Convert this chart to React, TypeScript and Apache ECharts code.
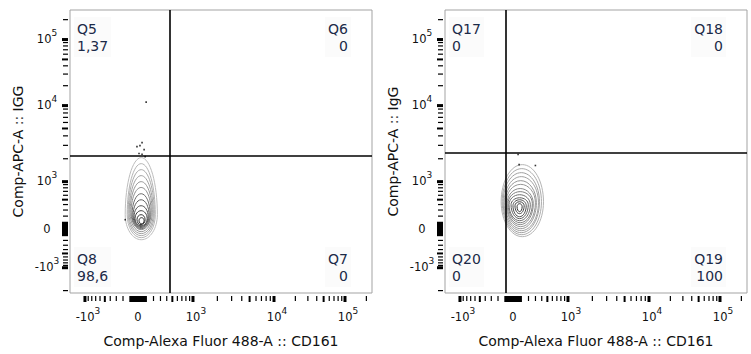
import { useEffect, useRef } from 'react';
import * as echarts from 'echarts';

const FONT = '"DejaVu Sans", "Noto Sans", sans-serif';

// ---- biexponential display scale (display units ~ pixels from zero) ----
const xScale = { pos: 55, neg: 53, dec: [81, 71] };
const yScale = { pos: 48, neg: 38, dec: [76, 66] };
const LIN = 440;
function biex(v: number, s: { pos: number; neg: number; dec: number[] }) {
  const a = Math.abs(v);
  const sg = v < 0 ? -1 : 1;
  const side = v < 0 ? s.neg : s.pos;
  if (a <= 1000) return (sg * side * Math.asinh(a / LIN)) / Math.asinh(1000 / LIN);
  const L = Math.log10(a);
  return sg * (side + Math.min(L - 3, 1) * s.dec[0] + Math.max(L - 4, 0) * s.dec[1]);
}

// ---- axis ranges and ticks (raw fluorescence values) ----
const xRangeRaw = [-1530, 240000];
const yRangeRaw = [-2150, 280000];
const majorTickValues = [-1000, 0, 1000, 10000, 100000];
const majorTickBase = ['-10', '0', '10', '10', '10'];
const majorTickExp = ['3', '', '3', '4', '5'];
const mediumTickValues = [-500, 500, 5000, 50000];
const nearZeroTickValues = [-100, -90, -80, -70, -60, -50, -40, -30, -20, -10, 10, 20, 30, 40, 50, 60, 70, 80, 90, 100];
const minorTickValues = [
  -2000, -900, -800, -700, -600, -400, -300, -200, 200, 300, 400, 600, 700, 800, 900,
  2000, 3000, 4000, 6000, 7000, 8000, 9000, 20000, 30000, 40000, 60000, 70000, 80000, 90000, 200000,
];

// ---- texts ----
const xTitle = 'Comp-Alexa Fluor 488-A :: CD161';
const yTitles = ['Comp-APC-A :: IGG', 'Comp-APC-A :: IgG'];
const quadNames = [['Q5', 'Q6', 'Q7', 'Q8'], ['Q17', 'Q18', 'Q19', 'Q20']];
const quadValues = [['1,37', '0', '0', '98,6'], ['0', '0', '100', '0']];

// ---- gates (raw values) ----
const gateX = [447, -90];
const gateY = [2200, 2410];

// ---- contour rings: [xLeft, xRight, yBottom, yWidest, yTop] (raw values) ----
const contoursLeft = [
  [-169, 254, -186, 223, 2070],
  [-142, 225, -147, 223, 1725],
  [-129, 211, -109, 239, 1438],
  [-116, 197, -72, 239, 1200],
  [-103, 183, -36, 255, 1000],
  [-90, 169, 0, 255, 810],
  [-77, 156, 14, 223, 639],
  [-64, 142, 29, 207, 498],
  [-51, 129, 43, 191, 378],
  [-38, 116, 57, 161, 289],
  [-13, 90, 72, 145, 223],
  [13, 77, 86, 130, 176],
];
const levelsLeft = [1, 2, 3, 4, 5, 6, 8, 9, 10, 11, 12, 13];
const contoursRight = [
  [-156, 430, -128, 456, 1674],
  [-142, 395, -91, 456, 1483],
  [-129, 362, -54, 456, 1313],
  [-116, 346, -18, 436, 1164],
  [-103, 314, 14, 436, 1031],
  [-90, 299, 43, 436, 908],
  [-77, 268, 72, 417, 779],
  [-64, 254, 100, 417, 693],
  [-51, 225, 130, 397, 614],
  [-25, 197, 161, 397, 542],
  [0, 169, 191, 378, 498],
  [25, 142, 239, 378, 456],
  [51, 116, 272, 360, 417],
];
const levelsRight = [2, 3, 4, 4, 5, 5, 6, 7, 8, 9, 10, 11, 12];

// ---- outlier events ----
const outliersLeftX = [103, 51, -13, 25, 77, 13, 51, 90, -169];
const outliersLeftY = [11300, 3260, 2890, 2980, 2640, 2340, 2290, 2130, 145];
const outliersRightX = [64, 77, 299];
const outliersRightY = [2270, 1674, 1630];

const levelColors = ['#bdbdbd', '#b4b4b4', '#aaaaaa', '#a0a0a0', '#969696', '#8c8c8c', '#808080', '#6e6e6e', '#5e5e5e', '#4e4e4e', '#404040', '#333333', '#262626'];

const K = 0.5523;
function renderRing(_params: any, api: any) {
  const xl = api.value(0), xr = api.value(1), yb = api.value(2), yw = api.value(3), yt = api.value(4);
  const lvl = api.value(5);
  const xm = (xl + xr) / 2;
  const L = api.coord([xl, yw]);
  const R = api.coord([xr, yw]);
  const T = api.coord([xm, yt]);
  const B = api.coord([xm, yb]);
  const f = (n: number) => n.toFixed(2);
  const d =
    `M${f(L[0])},${f(L[1])} ` +
    `C${f(L[0])},${f(L[1] + K * (T[1] - L[1]))} ${f(T[0] - K * (T[0] - L[0]))},${f(T[1])} ${f(T[0])},${f(T[1])} ` +
    `C${f(T[0] + K * (R[0] - T[0]))},${f(T[1])} ${f(R[0])},${f(R[1] + K * (T[1] - R[1]))} ${f(R[0])},${f(R[1])} ` +
    `C${f(R[0])},${f(R[1] + K * (B[1] - R[1]))} ${f(B[0] + K * (R[0] - B[0]))},${f(B[1])} ${f(B[0])},${f(B[1])} ` +
    `C${f(B[0] - K * (B[0] - L[0]))},${f(B[1])} ${f(L[0])},${f(L[1] + K * (B[1] - L[1]))} ${f(L[0])},${f(L[1])} Z`;
  return {
    type: 'path',
    shape: { pathData: d },
    style: { fill: 'none', stroke: levelColors[Math.min(lvl, levelColors.length) - 1], lineWidth: 1 },
  };
}

const bx = (v: number) => biex(v, xScale);
const by = (v: number) => biex(v, yScale);

function buildOption() {
  const xMin = bx(xRangeRaw[0]), xMax = bx(xRangeRaw[1]);
  const yMin = by(yRangeRaw[0]), yMax = by(yRangeRaw[1]);
  const majorX = majorTickValues.map(bx);
  const majorY = majorTickValues.map(by);

  const find = (arr: number[], val: number) => arr.findIndex((a) => Math.abs(a - val) < 1e-6);
  const fmtX = (val: number) => {
    const i = find(majorX, val);
    if (i < 0) return '';
    return majorTickExp[i] ? `{sp|}{b|${majorTickBase[i]}}{s|${majorTickExp[i]}}` : `{b|${majorTickBase[i]}}`;
  };
  const fmtY = (val: number) => {
    const i = find(majorY, val);
    if (i < 0) return '';
    return majorTickExp[i] ? `{b|${majorTickBase[i]}}{s|${majorTickExp[i]}}` : `{b|${majorTickBase[i]}}`;
  };
  const rich = {
    b: { fontSize: 11.5, fontFamily: FONT, color: '#111', lineHeight: 17, verticalAlign: 'bottom' },
    s: { fontSize: 9, fontFamily: FONT, color: '#111', lineHeight: 17, verticalAlign: 'top' },
    sp: { width: 6, lineHeight: 17 },
  };

  const panelLefts = [70, 445];
  const grids: any[] = [];
  const xAxes: any[] = [];
  const yAxes: any[] = [];
  panelLefts.forEach((l, g) => {
    grids.push({
      left: l, top: 10, width: 302, height: 283, show: true,
      borderColor: '#a3a3a3', borderWidth: 1, backgroundColor: 'transparent',
      containLabel: false, outerBoundsMode: 'none',
    });
    xAxes.push({
      type: 'value', gridIndex: g, min: xMin, max: xMax, offset: 3, position: 'bottom',
      axisLine: { show: false, onZero: false }, splitLine: { show: false }, axisTick: { show: false },
      axisLabel: { show: true, customValues: majorX, formatter: fmtX, rich, margin: 10, align: 'center', verticalAlign: 'top' },
      name: xTitle, nameLocation: 'middle', nameGap: 38, nameMoveOverlap: false,
      nameTextStyle: { fontFamily: FONT, fontSize: 14, color: '#111' },
    });
    yAxes.push({
      type: 'value', gridIndex: g, min: yMin, max: yMax, offset: 2, position: 'left',
      axisLine: { show: false, onZero: false }, splitLine: { show: false }, axisTick: { show: false },
      axisLabel: { show: true, customValues: majorY, formatter: fmtY, rich, margin: 21, align: 'center', verticalAlign: 'middle', padding: [0, 0, 6, 0] },
      name: yTitles[g], nameLocation: 'middle', nameGap: 43, nameMoveOverlap: false,
      nameTextStyle: { fontFamily: FONT, fontSize: 14, color: '#111' },
    });
  });

  // tick marks drawn as small rect symbols placed by the axes' scales
  const tickKinds = [
    { vals: minorTickValues, len: 5, w: 1.2 },
    { vals: [...mediumTickValues, ...nearZeroTickValues], len: 6, w: 2 },
    { vals: majorTickValues, len: 6, w: 3 },
  ];

  const contourSets = [
    { rings: contoursLeft, levels: levelsLeft },
    { rings: contoursRight, levels: levelsRight },
  ];
  const outlierSets = [
    { x: outliersLeftX, y: outliersLeftY },
    { x: outliersRightX, y: outliersRightY },
  ];

  const series: any[] = [];
  contourSets.forEach((cs, g) => {
    tickKinds.forEach((tk) => {
      const xData = tk.vals.map(bx).filter((d) => d > xMin && d < xMax).map((d) => [d, yMin]);
      const yData = tk.vals.map(by).filter((d) => d > yMin && d < yMax).map((d) => [xMin, d]);
      series.push({
        type: 'scatter', xAxisIndex: g, yAxisIndex: g, clip: false, silent: true, z: 6,
        symbol: 'rect', symbolSize: [tk.w, tk.len], symbolOffset: [0, 3 + tk.len / 2],
        itemStyle: { color: '#000', opacity: 1 }, emphasis: { disabled: true },
        data: xData,
      });
      series.push({
        type: 'scatter', xAxisIndex: g, yAxisIndex: g, clip: false, silent: true, z: 6,
        symbol: 'rect', symbolSize: [tk.len, tk.w], symbolOffset: [-(2 + tk.len / 2), 0],
        itemStyle: { color: '#000', opacity: 1 }, emphasis: { disabled: true },
        data: yData,
      });
    });
    series.push({
      type: 'custom',
      xAxisIndex: g,
      yAxisIndex: g,
      renderItem: renderRing,
      encode: { x: [0, 1], y: [2, 3, 4] },
      data: cs.rings.map((r, i) => [bx(r[0]), bx(r[1]), by(r[2]), by(r[3]), by(r[4]), cs.levels[i]]),
      silent: true,
      z: 2,
    });
    const os = outlierSets[g];
    series.push({
      type: 'scatter',
      xAxisIndex: g,
      yAxisIndex: g,
      symbol: 'rect',
      symbolSize: 1.6,
      itemStyle: { color: '#000' },
      data: os.x.map((xv, i) => [bx(xv), by(os.y[i])]),
      silent: true,
      z: 3,
      markLine: {
        silent: true,
        symbol: ['none', 'none'],
        label: { show: false },
        lineStyle: { color: '#000', width: 1.6, type: 'solid' },
        data: [{ xAxis: bx(gateX[g]) }, { yAxis: by(gateY[g]) }],
        z: 5,
      },
    });
  });

  const quadPos = [
    { x: 77, y: 20, align: 'left' },
    { x: 348, y: 20, align: 'right' },
    { x: 348, y: 250, align: 'right' },
    { x: 77, y: 250, align: 'left' },
  ];
  const graphic: any[] = [];
  [0, 1].forEach((g) => {
    quadPos.forEach((p, q) => {
      graphic.push({
        type: 'text',
        x: p.x + g * 375 + (p.align === 'left' ? -3 : 3),
        y: p.y - 3,
        z: 10,
        style: {
          text: `${quadNames[g][q]}\n${quadValues[g][q]}`,
          fill: '#1c2a48',
          fontFamily: FONT,
          fontSize: 14,
          lineHeight: 17,
          align: p.align,
          verticalAlign: 'top',
          backgroundColor: '#fbfbfb',
          padding: [3, 3, 3, 3],
        },
      });
    });
  });

  return {
    animation: false,
    backgroundColor: '#fff',
    textStyle: { fontFamily: FONT },
    grid: grids,
    xAxis: xAxes,
    yAxis: yAxes,
    series,
    graphic,
  };
}

export default function App() {
  const ref = useRef<HTMLDivElement>(null);
  useEffect(() => {
    if (!ref.current) return;
    const chart = echarts.init(ref.current, undefined, { renderer: 'svg' });
    chart.setOption(buildOption() as any);
    return () => chart.dispose();
  }, []);
  return <div ref={ref} style={{ position: 'fixed', left: 0, top: 0, width: 751, height: 354, background: '#fff' }} />;
}
